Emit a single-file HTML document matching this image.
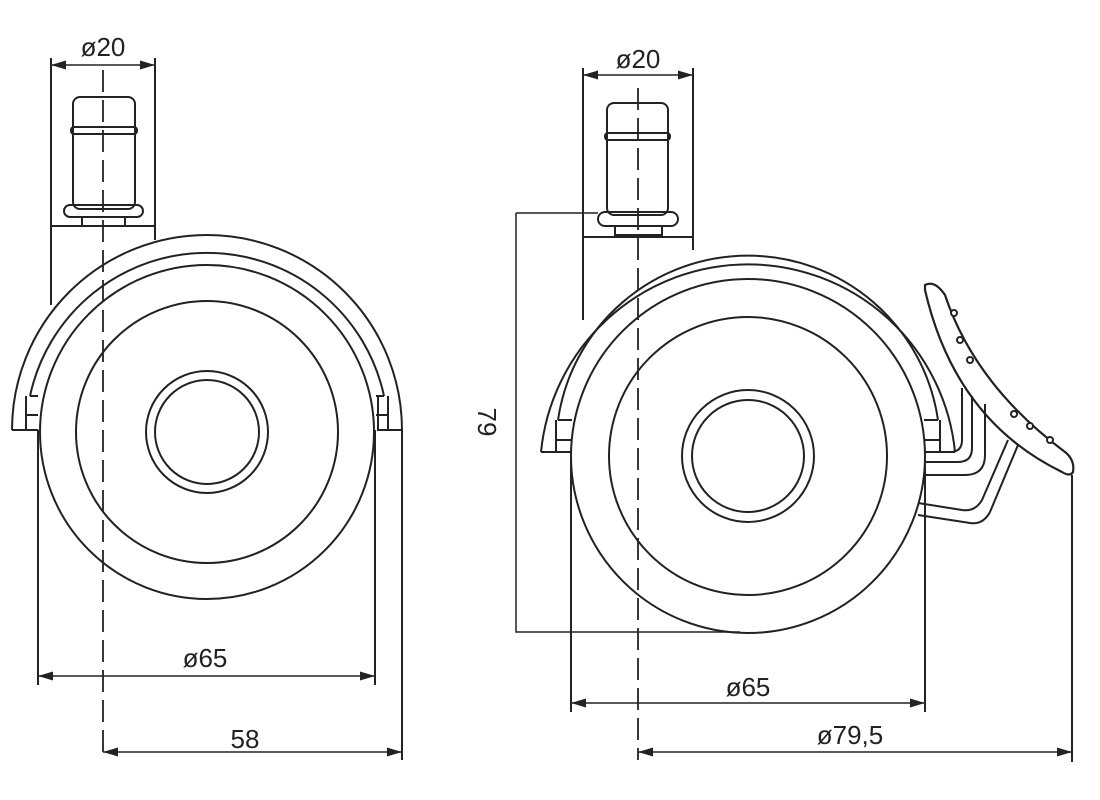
<!DOCTYPE html>
<html><head><style>body{margin:0;background:#fff}svg{display:block}</style></head><body>
<svg width="1100" height="800" viewBox="0 0 1100 800" xmlns="http://www.w3.org/2000/svg" fill="none" stroke="#222" stroke-width="2">
<defs><marker id="a" markerWidth="10" markerHeight="6" refX="10" refY="3" orient="auto-start-reverse"><path d="M0,0 L10,3 L0,6" fill="#222" stroke="none"/></marker></defs>
<g font-family="Liberation Sans, sans-serif" font-size="26" fill="#222" stroke="none" text-anchor="middle">
<text x="103" y="56">ø20</text>
<text x="205" y="667">ø65</text>
<text x="245" y="748">58</text>
<text x="638" y="68">ø20</text>
<text x="748" y="696">ø65</text>
<text x="850" y="744">ø79,5</text>
<text transform="translate(478,422) rotate(90)">79</text>
</g>
<!-- LEFT -->
<line x1="51" y1="58" x2="51" y2="305"/><line x1="155" y1="58" x2="155" y2="240"/>
<line x1="51" y1="65" x2="155" y2="65" marker-start="url(#a)" marker-end="url(#a)" stroke-width="1.5"/>
<rect x="73" y="97" width="62" height="112" rx="7"/>
<rect x="71" y="127" width="66" height="7" rx="3"/>
<rect x="64" y="205" width="79" height="12" rx="6"/>
<rect x="82" y="217" width="43" height="9"/>
<line x1="51" y1="226" x2="155" y2="226"/>
<line x1="103" y1="70" x2="103" y2="760" stroke-dasharray="22,8" stroke-width="1.8"/>
<path d="M12,430 A195,195 0 0 1 402,430 L378,430 L378,396 M12,430 L38,430"/>
<path d="M30,396 A181,181 0 0 1 384,396"/>
<path d="M30,396 L38,396 M376,396 L384,396 M26,396 L26,430 M388,396 L388,430 M26,415 L38,415 M376,415 L388,415"/>
<circle cx="207" cy="432" r="167"/>
<circle cx="207" cy="432" r="131"/>
<circle cx="207" cy="432" r="61"/>
<circle cx="207" cy="432" r="52"/>
<line x1="38" y1="430" x2="38" y2="685"/><line x1="375" y1="430" x2="375" y2="685"/><line x1="402" y1="430" x2="402" y2="760"/>
<line x1="38" y1="676" x2="375" y2="676" marker-start="url(#a)" marker-end="url(#a)" stroke-width="1.5"/>
<line x1="103" y1="752" x2="402" y2="752" marker-start="url(#a)" marker-end="url(#a)" stroke-width="1.5"/>
<!-- RIGHT -->
<line x1="583" y1="68" x2="583" y2="320"/><line x1="693" y1="68" x2="693" y2="250"/>
<line x1="583" y1="75" x2="693" y2="75" marker-start="url(#a)" marker-end="url(#a)" stroke-width="1.5"/>
<rect x="607" y="103" width="61" height="112" rx="7"/>
<rect x="605" y="133" width="65" height="7" rx="3"/>
<rect x="598" y="212" width="80" height="14" rx="7"/>
<rect x="615" y="226" width="47" height="9"/>
<line x1="583" y1="237" x2="693" y2="237"/>
<line x1="638" y1="88" x2="638" y2="760" stroke-dasharray="22,8" stroke-width="1.8"/>
<path d="M516,213 L598,213 M516,213 L516,632 L740,632" stroke-width="1.5"/>
<path d="M541,452 A208,208 0 0 1 955,452 M541,452 L571,452 M925,452 L955,452"/>
<path d="M558,420 A192,192 0 0 1 938,420"/>
<path d="M558,420 L572,420 M924,420 L938,420 M556,420 L556,440 L571,440 M940,420 L940,440 L925,440 M556,420 L556,452 M940,420 L940,452"/>
<circle cx="748" cy="456" r="177"/>
<circle cx="748" cy="456" r="139"/>
<circle cx="748" cy="456" r="66"/>
<circle cx="748" cy="456" r="56"/>
<path d="M925,452 L950,452 Q962,452 962,440 L962,388"/>
<path d="M925,462 L958,462 Q972,462 972,448 L972,396"/>
<path d="M925,475 L965,475 Q985,475 985,455 L985,404"/>
<path d="M918,503 L962,510 Q975,512 982,500 L1008,440"/>
<path d="M918,515 L970,523 Q983,525 990,512 L1018,445"/>
<path d="M925,285 Q935,280 945,295 Q975,385 1065,452 Q1075,460 1073,472 Q1070,477 1062,472 Q955,420 925,290 Z" stroke-width="2.2"/>
<g fill="#fff"><circle cx="954" cy="313" r="3"/><circle cx="960" cy="340" r="3"/><circle cx="970" cy="360" r="3"/><circle cx="1014" cy="414" r="3"/><circle cx="1030" cy="426" r="3"/><circle cx="1050" cy="440" r="3"/></g>
<line x1="571" y1="455" x2="571" y2="712"/><line x1="925" y1="460" x2="925" y2="712"/><line x1="1072" y1="475" x2="1072" y2="762"/>
<line x1="571" y1="703" x2="925" y2="703" marker-start="url(#a)" marker-end="url(#a)" stroke-width="1.5"/>
<line x1="638" y1="752" x2="1072" y2="752" marker-start="url(#a)" marker-end="url(#a)" stroke-width="1.5"/>
</svg>
</body></html>
